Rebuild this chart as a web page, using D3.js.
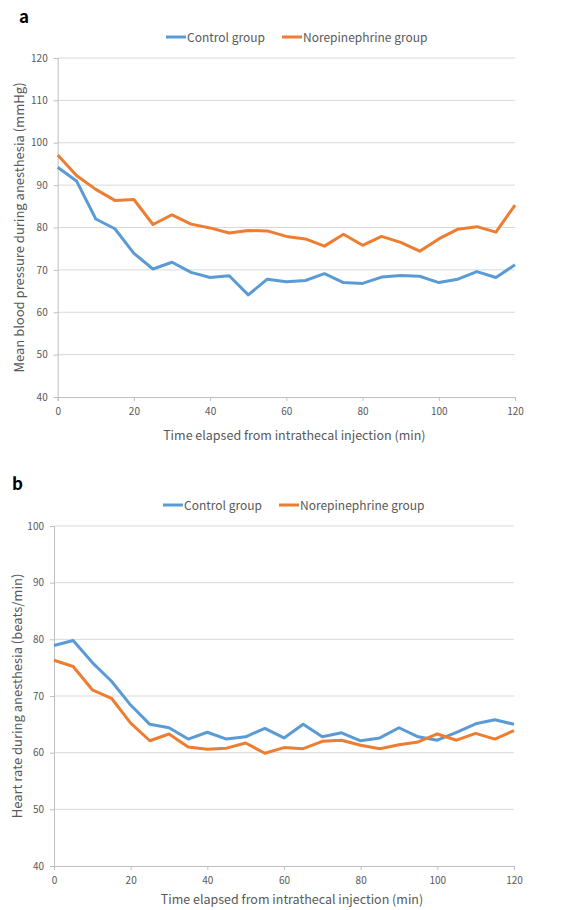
<!DOCTYPE html>
<html>
<head>
<meta charset="utf-8">
<script src="https://cdn.jsdelivr.net/npm/d3@7"></script>
<style>
  body { margin: 0; background: #fff; }
  svg text { font-family: "Noto Sans CJK KR", "Noto Sans", sans-serif; }
</style>
</head>
<body>
<svg id="chart"></svg>
<script>
// Chart size
var width = 577;
var height = 910;

// Time points (min)
var minutes = d3.range(0, 121, 5);

// Panel a: mean blood pressure (mmHg)
var mbpControl = [94.2, 90.9, 82.0, 79.7, 73.9, 70.2, 71.8, 69.4, 68.2, 68.6, 64.1, 67.8, 67.2,
                  67.5, 69.1, 67.0, 66.8, 68.3, 68.7, 68.5, 67.0, 67.8, 69.6, 68.2, 71.2];
var mbpNorepi   = [97.1, 92.2, 89.0, 86.4, 86.6, 80.7, 83.0, 80.8, 79.9, 78.7, 79.3, 79.2, 77.9,
                  77.3, 75.6, 78.4, 75.8, 77.9, 76.5, 74.4, 77.3, 79.6, 80.2, 78.9, 85.3];

// Panel b: heart rate (beats/min)
var hrControl = [78.9, 79.8, 75.9, 72.6, 68.4, 65.0, 64.4, 62.4, 63.6, 62.4, 62.8, 64.3, 62.6,
                 65.0, 62.8, 63.5, 62.1, 62.6, 64.4, 62.8, 62.2, 63.6, 65.1, 65.8, 65.0];
var hrNorepi   = [76.3, 75.2, 71.1, 69.6, 65.2, 62.1, 63.3, 61.0, 60.6, 60.8, 61.7, 59.9, 60.9,
                 60.7, 62.0, 62.2, 61.3, 60.7, 61.4, 61.9, 63.3, 62.2, 63.4, 62.4, 63.9];

// Axis ticks
var xTicks = [0, 20, 40, 60, 80, 100, 120];
var mbpTicks = [40, 50, 60, 70, 80, 90, 100, 110, 120];
var hrTicks = [40, 50, 60, 70, 80, 90, 100];

var seriesNames = ["Control group", "Norepinephrine group"];
var seriesColors = ["#5b9bd5", "#ed7d31"];

var svg = d3.select("#chart")
    .attr("width", width)
    .attr("height", height);

// Draw one panel
function drawPanel(opts) {
  var g = svg.append("g");

  var x = d3.scaleLinear().domain([0, 120]).range([opts.left, opts.right]);
  var y = d3.scaleLinear().domain(d3.extent(opts.yTicks)).range([opts.bottom, opts.top]);

  // Panel letter
  g.append("text")
      .attr("x", opts.letterX)
      .attr("y", opts.letterY)
      .style("font-size", "17px")
      .style("font-weight", "bold")
      .attr("fill", "#000")
      .text(opts.letter);

  // Gridlines
  g.append("g")
    .selectAll("line")
      .data(opts.yTicks.slice(1))
    .enter().append("line")
      .attr("x1", opts.left)
      .attr("x2", opts.right)
      .attr("y1", d => y(d))
      .attr("y2", d => y(d))
      .attr("stroke", "#d9d9d9")
      .attr("stroke-width", 1);

  // Y axis
  var yAxis = g.append("g")
      .attr("transform", "translate(" + opts.left + ",0)")
      .call(d3.axisLeft(y).tickValues(opts.yTicks).tickSize(4).tickPadding(6));
  // X axis
  var xAxis = g.append("g")
      .attr("transform", "translate(0," + opts.bottom + ")")
      .call(d3.axisBottom(x).tickValues(xTicks).tickSize(4).tickPadding(7));

  [yAxis, xAxis].forEach(function(ax) {
    ax.select(".domain").attr("stroke", "#bfbfbf");
    ax.selectAll(".tick line").attr("stroke", "#bfbfbf");
    ax.selectAll(".tick text")
        .attr("fill", "#595959")
        .style("font-size", "10px")
        .style("font-family", "'Noto Sans CJK KR', 'Noto Sans', sans-serif");
  });

  // Axis titles
  g.append("text")
      .attr("x", (opts.left + opts.right) / 2 + 8)
      .attr("y", opts.xTitleY)
      .attr("text-anchor", "middle")
      .attr("fill", "#595959")
      .style("font-size", "12.5px")
      .text("Time elapsed from intrathecal injection (min)");

  g.append("text")
      .attr("transform", "translate(" + opts.yTitleX + "," + (opts.top + opts.bottom) / 2 + ") rotate(-90)")
      .attr("text-anchor", "middle")
      .attr("fill", "#595959")
      .style("font-size", "13px")
      .text(opts.yTitle);

  // Lines
  var line = d3.line()
      .x((d, i) => x(minutes[i]))
      .y(d => y(d));

  opts.series.forEach(function(values, i) {
    g.append("path")
        .datum(values)
        .attr("fill", "none")
        .attr("stroke", seriesColors[i])
        .attr("stroke-width", 3)
        .attr("stroke-linejoin", "round")
        .attr("d", line);
  });

  // Legend
  var legend = g.append("g");
  var legendX = [opts.legendX, opts.legendX + 116];
  seriesNames.forEach(function(name, i) {
    legend.append("line")
        .attr("x1", legendX[i])
        .attr("x2", legendX[i] + 20)
        .attr("y1", opts.legendY)
        .attr("y2", opts.legendY)
        .attr("stroke", seriesColors[i])
        .attr("stroke-width", 3);
    legend.append("text")
        .attr("x", legendX[i] + 21)
        .attr("y", opts.legendY + 4.5)
        .attr("fill", "#595959")
        .style("font-size", "12px")
        .text(name);
  });
}

drawPanel({
  letter: "a", letterX: 19, letterY: 23,
  left: 57.7, right: 515, top: 58, bottom: 397,
  yTicks: mbpTicks,
  yTitle: "Mean blood pressure during anesthesia (mmHg)", yTitleX: 24,
  xTitleY: 440,
  legendX: 166, legendY: 37,
  series: [mbpControl, mbpNorepi]
});

drawPanel({
  letter: "b", letterX: 12, letterY: 490,
  left: 54, right: 514, top: 526, bottom: 866,
  yTicks: hrTicks,
  yTitle: "Heart rate during anesthesia (beats/min)", yTitleX: 22,
  xTitleY: 904,
  legendX: 163, legendY: 505,
  series: [hrControl, hrNorepi]
});
</script>
</body>
</html>
